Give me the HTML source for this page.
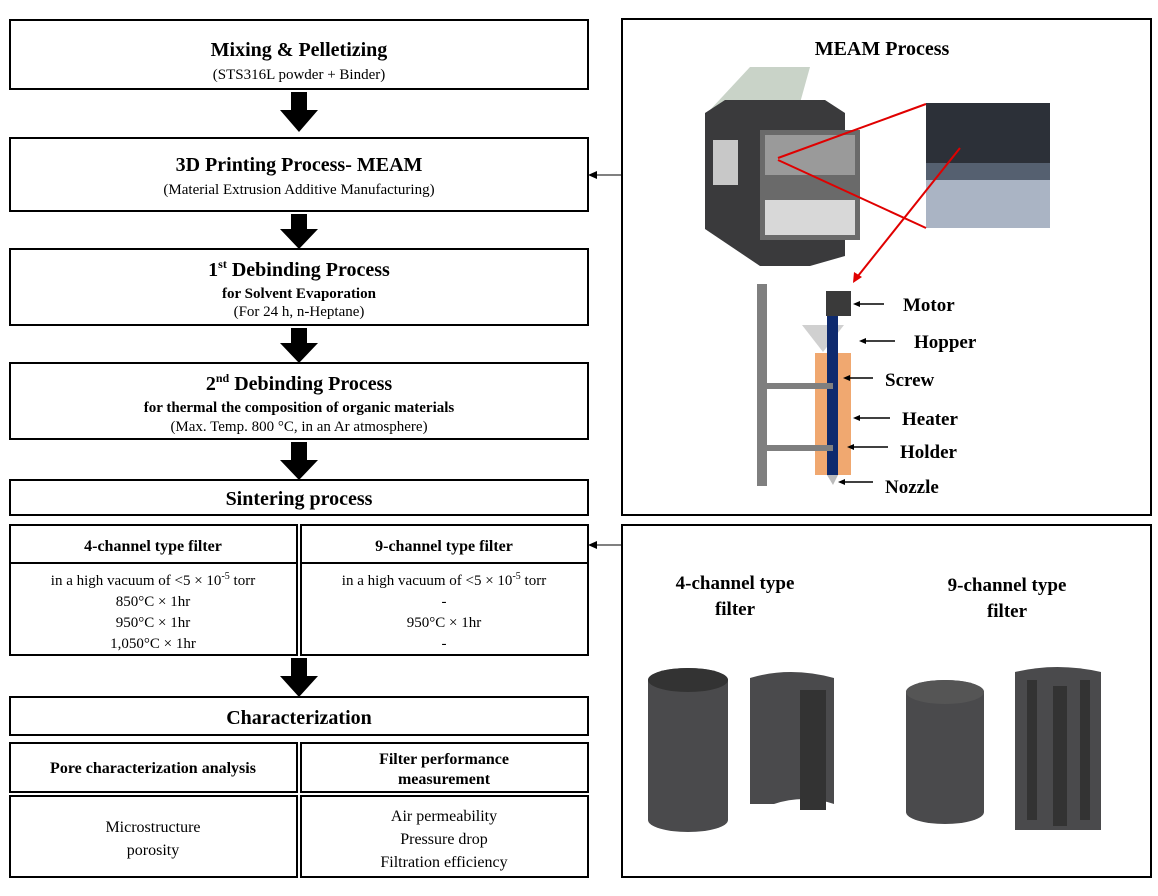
<!DOCTYPE html>
<html><head><style>
body{margin:0;background:#fff;width:1158px;height:891px;overflow:hidden}
svg text{font-family:"Liberation Serif",serif;fill:#000}
</style></head><body>
<svg width="1158" height="891" viewBox="0 0 1158 891" xmlns="http://www.w3.org/2000/svg">
<g fill="none" stroke="#000" stroke-width="2">
<rect x="10" y="20" width="578" height="69"/>
<rect x="10" y="138" width="578" height="73"/>
<rect x="10" y="249" width="578" height="76"/>
<rect x="10" y="363" width="578" height="76"/>
<rect x="10" y="480" width="578" height="35"/>
<rect x="10" y="525" width="287" height="130"/>
<rect x="301" y="525" width="287" height="130"/>
<line x1="10" y1="563" x2="297" y2="563"/>
<line x1="301" y1="563" x2="588" y2="563"/>
<rect x="10" y="697" width="578" height="38"/>
<rect x="10" y="743" width="287" height="49"/>
<rect x="301" y="743" width="287" height="49"/>
<rect x="10" y="796" width="287" height="81"/>
<rect x="301" y="796" width="287" height="81"/>
<rect x="622" y="19" width="529" height="496"/>
<rect x="622" y="525" width="529" height="352"/>
</g>
<g fill="#000">
<path d="M291 92h16v18h11l-19 22-19-22h11z"/>
<path d="M291 214h16v15h11l-19 20-19-20h11z"/>
<path d="M291 328h16v15h11l-19 20-19-20h11z"/>
<path d="M291 442h16v18h11l-19 20-19-20h11z"/>
<path d="M291 658h16v18h11l-19 21-19-21h11z"/>
<line x1="596" y1="175" x2="622" y2="175" stroke="#000" stroke-width="1"/>
<path d="M588 175l9-4v8z"/>
<line x1="596" y1="545" x2="622" y2="545" stroke="#000" stroke-width="1"/>
<path d="M588 545l9-4v8z"/>
</g>
<g text-anchor="middle">
<text x="299" y="56" font-size="20" font-weight="bold">Mixing &amp; Pelletizing</text>
<text x="299" y="79" font-size="15">(STS316L powder + Binder)</text>
<text x="299" y="171" font-size="20" font-weight="bold">3D Printing Process- MEAM</text>
<text x="299" y="194" font-size="15">(Material Extrusion Additive Manufacturing)</text>
<text x="299" y="276" font-size="20" font-weight="bold">1<tspan font-size="12" dy="-8">st</tspan><tspan dy="8"> Debinding Process</tspan></text>
<text x="299" y="298" font-size="15" font-weight="bold">for Solvent Evaporation</text>
<text x="299" y="316" font-size="15">(For 24 h, n-Heptane)</text>
<text x="299" y="390" font-size="20" font-weight="bold">2<tspan font-size="12" dy="-8">nd</tspan><tspan dy="8"> Debinding Process</tspan></text>
<text x="299" y="412" font-size="15" font-weight="bold">for thermal the composition of organic materials</text>
<text x="299" y="431" font-size="15">(Max. Temp. 800 °C,  in an Ar atmosphere)</text>
<text x="299" y="505" font-size="20" font-weight="bold">Sintering process</text>
<text x="153" y="551" font-size="16" font-weight="bold">4-channel type filter</text>
<text x="444" y="551" font-size="16" font-weight="bold">9-channel type filter</text>
<g font-size="15">
<text x="153" y="585">in a high vacuum of &lt;5 × 10<tspan font-size="10" dy="-6">-5</tspan><tspan dy="6"> torr</tspan></text>
<text x="153" y="606">850°C × 1hr</text>
<text x="153" y="627">950°C × 1hr</text>
<text x="153" y="648">1,050°C × 1hr</text>
<text x="444" y="585">in a high vacuum of &lt;5 × 10<tspan font-size="10" dy="-6">-5</tspan><tspan dy="6"> torr</tspan></text>
<text x="444" y="606">-</text>
<text x="444" y="627">950°C × 1hr</text>
<text x="444" y="648">-</text>
</g>
<text x="299" y="724" font-size="20" font-weight="bold">Characterization</text>
<text x="153" y="773" font-size="16" font-weight="bold">Pore characterization analysis</text>
<text x="444" y="764" font-size="16" font-weight="bold">Filter performance</text>
<text x="444" y="784" font-size="16" font-weight="bold">measurement</text>
<text x="153" y="832" font-size="16">Microstructure</text>
<text x="153" y="855" font-size="16">porosity</text>
<text x="444" y="821" font-size="16">Air permeability</text>
<text x="444" y="844" font-size="16">Pressure drop</text>
<text x="444" y="867" font-size="16">Filtration efficiency</text>
<text x="882" y="55" font-size="20" font-weight="bold">MEAM Process</text>
<text x="735" y="589" font-size="19" font-weight="bold">4-channel type</text>
<text x="735" y="615" font-size="19" font-weight="bold">filter</text>
<text x="1007" y="591" font-size="19" font-weight="bold">9-channel type</text>
<text x="1007" y="617" font-size="19" font-weight="bold">filter</text>
</g>
<!-- printer -->
<path d="M710 110l40-43h60l-10 36z" fill="#c9d3c8"/>
<path d="M705 113l20-13h100l20 13v143l-35 10h-50l-55-37z" fill="#3a3a3c"/>
<path d="M760 130h100v110h-100z" fill="#6a6a6a"/>
<path d="M765 135h90v40h-90z" fill="#9a9a9a"/>
<path d="M765 200h90v35h-90z" fill="#d8d8d8"/>
<rect x="713" y="140" width="25" height="45" fill="#c8c8c8"/>
<rect x="926" y="103" width="124" height="125" fill="#556070"/>
<rect x="926" y="103" width="124" height="60" fill="#2c3038"/>
<rect x="926" y="180" width="124" height="48" fill="#aab4c4"/>
<g stroke="#e00000" stroke-width="2" fill="none">
<line x1="778" y1="158" x2="926" y2="104"/>
<line x1="778" y1="160" x2="926" y2="228"/>
<line x1="960" y1="148" x2="858" y2="276"/>
</g>
<path d="M853 283l1-11 8 5z" fill="#e00000"/>
<!-- extruder -->
<rect x="757" y="284" width="10" height="202" fill="#7f7f7f"/>
<rect x="767" y="383" width="66" height="6" fill="#7f7f7f"/>
<rect x="767" y="445" width="66" height="6" fill="#7f7f7f"/>
<path d="M802 325h42l-21 27z" fill="#d0d0d0"/>
<rect x="815" y="353" width="36" height="122" fill="#f0a870"/>
<rect x="827" y="312" width="11" height="163" fill="#0e2a6e"/>
<rect x="826" y="291" width="25" height="25" fill="#3a3a3a"/>
<path d="M827 475h11l-5 10z" fill="#bbb"/>
<rect x="767" y="383" width="66" height="6" fill="#7f7f7f"/>
<rect x="767" y="445" width="66" height="6" fill="#7f7f7f"/>
<g stroke="#000" stroke-width="1.5">
<line x1="860" y1="304" x2="884" y2="304"/><line x1="866" y1="341" x2="895" y2="341"/>
<line x1="850" y1="378" x2="873" y2="378"/><line x1="860" y1="418" x2="890" y2="418"/>
<line x1="854" y1="447" x2="888" y2="447"/><line x1="845" y1="482" x2="873" y2="482"/>
</g>
<g fill="#000"><path d="M853 304l7-3v6z"/><path d="M859 341l7-3v6z"/><path d="M843 378l7-3v6z"/><path d="M853 418l7-3v6z"/><path d="M847 447l7-3v6z"/><path d="M838 482l7-3v6z"/></g>
<g font-size="19" font-weight="bold">
<text x="903" y="311">Motor</text><text x="914" y="348">Hopper</text><text x="885" y="386">Screw</text>
<text x="902" y="425">Heater</text><text x="900" y="458">Holder</text><text x="885" y="493">Nozzle</text>
</g>
<!-- filters -->
<g fill="#4a4a4c">
<path d="M648 680a40 12 0 0 1 80 0v140a40 12 0 0 1-80 0z"/>
<path d="M750 678q40-12 84 0v126q-30-10-60 0v0h-24z"/>
<path d="M906 692a39 12 0 0 1 78 0v120a39 12 0 0 1-78 0z"/>
<path d="M1015 672q42-10 86 0v158h-86z"/>
</g>
<ellipse cx="688" cy="680" rx="40" ry="12" fill="#333"/>
<ellipse cx="945" cy="692" rx="39" ry="12" fill="#555"/>
<rect x="800" y="690" width="26" height="120" fill="#333"/>
<rect x="1053" y="686" width="14" height="140" fill="#333"/>
<rect x="1027" y="680" width="10" height="140" fill="#333"/>
<rect x="1080" y="680" width="10" height="140" fill="#333"/>
</svg>
</body></html>
